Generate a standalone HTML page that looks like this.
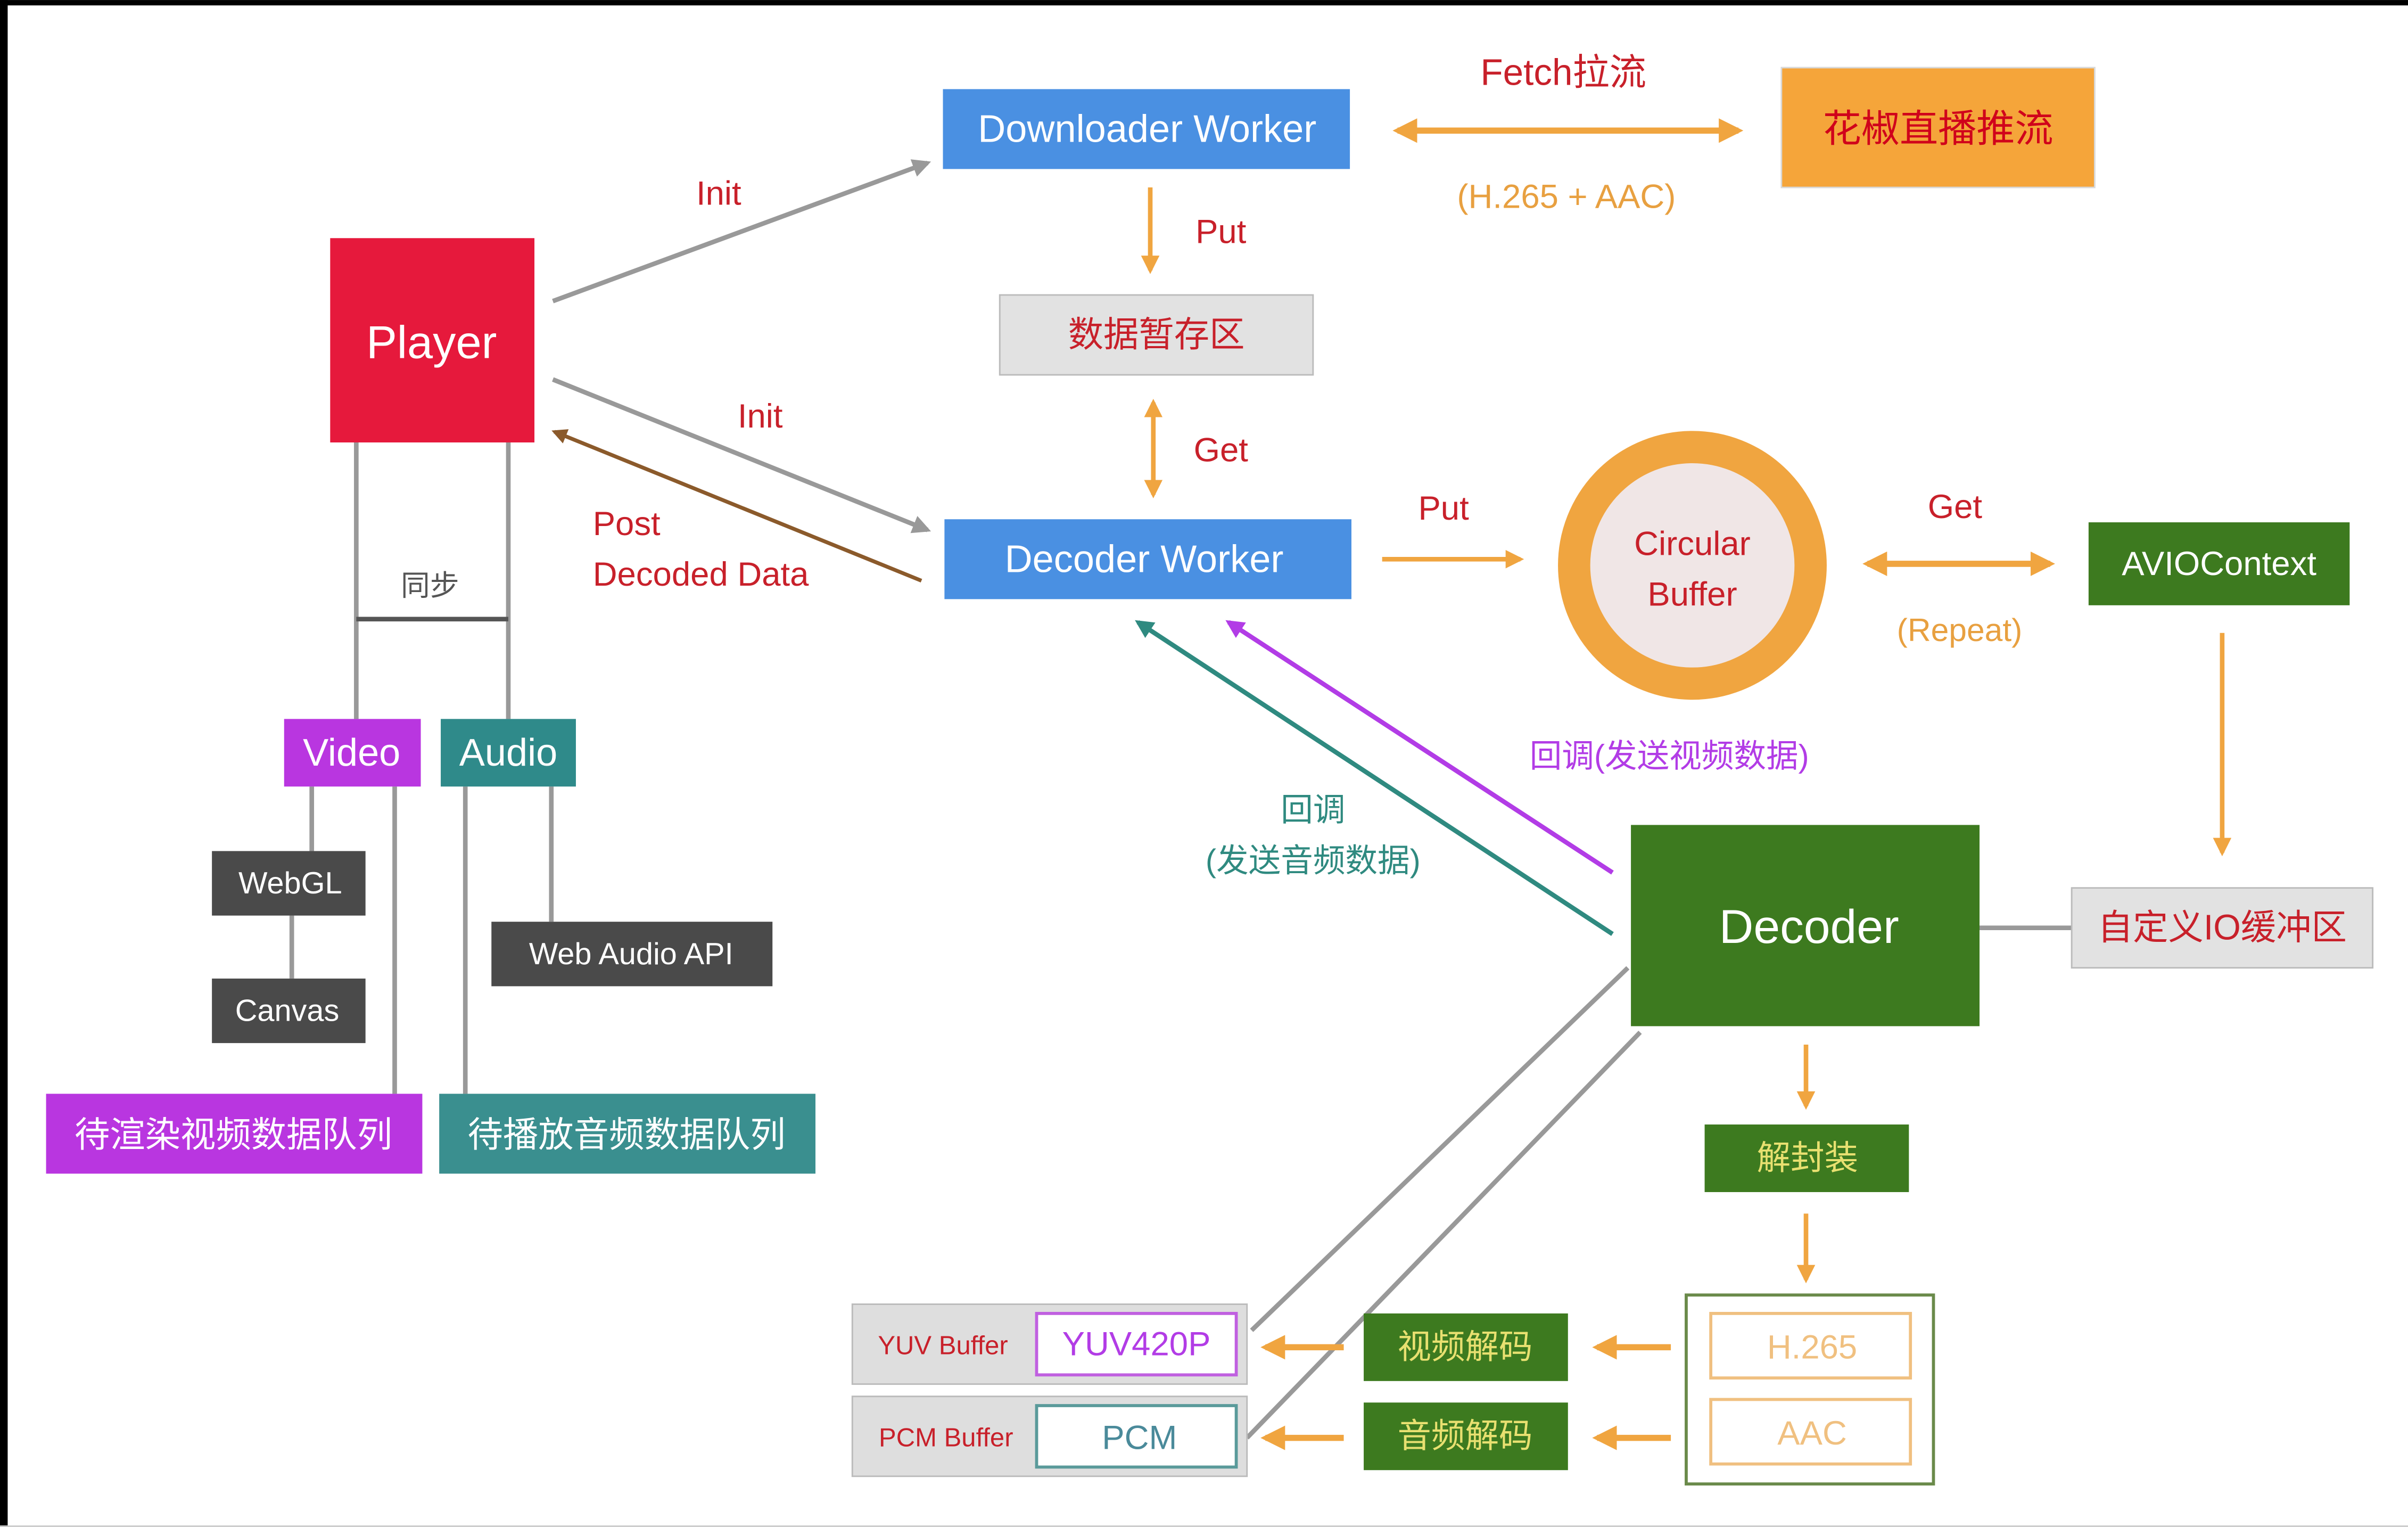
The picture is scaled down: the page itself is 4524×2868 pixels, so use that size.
<!DOCTYPE html>
<html><head><meta charset="utf-8"><style>
html,body{margin:0;padding:0;background:#fff;}
svg{display:block;}
text{font-family:"Liberation Sans","Noto Sans CJK SC",sans-serif;text-anchor:middle;dominant-baseline:central;}
</style></head><body>
<svg width="4524" height="2868" viewBox="0 0 1568 994" xmlns="http://www.w3.org/2000/svg">
<defs>
<marker id="ao" viewBox="0 0 10 10" refX="8" refY="5" markerWidth="4" markerHeight="4" orient="auto-start-reverse"><path d="M0,0 L10,5 L0,10 z" fill="#f0a540"/></marker>
<marker id="ag" viewBox="0 0 10 10" refX="8" refY="5" markerWidth="4" markerHeight="4" orient="auto"><path d="M0,0 L10,5 L0,10 z" fill="#999"/></marker>
<marker id="ab" viewBox="0 0 10 10" refX="8" refY="5" markerWidth="4" markerHeight="4" orient="auto"><path d="M0,0 L10,5 L0,10 z" fill="#8b5a2b"/></marker>
<marker id="ap" viewBox="0 0 10 10" refX="8" refY="5" markerWidth="4" markerHeight="4" orient="auto"><path d="M0,0 L10,5 L0,10 z" fill="#b23ce6"/></marker>
<marker id="at" viewBox="0 0 10 10" refX="8" refY="5" markerWidth="4" markerHeight="4" orient="auto"><path d="M0,0 L10,5 L0,10 z" fill="#2f8a80"/></marker>
</defs>
<rect x="0" y="0" width="1568" height="994" fill="#fff"/>
<rect x="0" y="0" width="1568" height="3.5" fill="#000"/>
<rect x="0" y="0" width="5" height="994" fill="#000"/>
<rect x="0" y="993" width="1568" height="1" fill="#ccc"/>

<!-- top -->
<rect x="614" y="58" width="265" height="52" fill="#4a90e2"/>
<text x="747" y="84" font-size="25" fill="#fff">Downloader Worker</text>
<text x="1018" y="47" font-size="24" fill="#c8202a">Fetch拉流</text>
<line x1="910" y1="85" x2="1132" y2="85" stroke="#f0a540" stroke-width="4" marker-start="url(#ao)" marker-end="url(#ao)"/>
<text x="1020" y="128" font-size="22" fill="#e8a040">(H.265 + AAC)</text>
<rect x="1160" y="44" width="204" height="78" fill="#f5a53a" stroke="#d8d8d8"/>
<text x="1262" y="84" font-size="25" fill="#d0021b">花椒直播推流</text>

<line x1="749" y1="122" x2="749" y2="176" stroke="#f0a540" stroke-width="3" marker-end="url(#ao)"/>
<text x="795" y="151" font-size="22" fill="#c8202a">Put</text>
<rect x="651" y="192" width="204" height="52" fill="#e2e2e2" stroke="#bbb"/>
<text x="753" y="218" font-size="23" fill="#c8202a">数据暂存区</text>
<line x1="751" y1="262" x2="751" y2="322" stroke="#f0a540" stroke-width="3" marker-start="url(#ao)" marker-end="url(#ao)"/>
<text x="795" y="293" font-size="22" fill="#c8202a">Get</text>
<rect x="615" y="338" width="265" height="52" fill="#4a90e2"/>
<text x="745" y="364" font-size="25" fill="#fff">Decoder Worker</text>

<!-- player -->
<rect x="215" y="155" width="133" height="133" fill="#e6193c"/>
<text x="281" y="223" font-size="30" fill="#fff">Player</text>
<line x1="360" y1="196" x2="604" y2="106" stroke="#999" stroke-width="3" marker-end="url(#ag)"/>
<text x="468" y="126" font-size="22" fill="#c8202a">Init</text>
<line x1="360" y1="247" x2="604" y2="345" stroke="#999" stroke-width="3" marker-end="url(#ag)"/>
<text x="495" y="271" font-size="22" fill="#c8202a">Init</text>
<line x1="600" y1="378" x2="361" y2="281" stroke="#8b5a2b" stroke-width="2.5" marker-end="url(#ab)"/>
<text x="386" y="341" font-size="22" fill="#c8202a" style="text-anchor:start">Post</text>
<text x="386" y="374" font-size="22" fill="#c8202a" style="text-anchor:start">Decoded Data</text>

<g stroke="#999" stroke-width="3" fill="none">
<line x1="232" y1="288" x2="232" y2="468"/>
<line x1="331" y1="288" x2="331" y2="468"/>
<line x1="203" y1="512" x2="203" y2="554"/>
<line x1="190" y1="596" x2="190" y2="637"/>
<line x1="257" y1="512" x2="257" y2="712"/>
<line x1="359" y1="512" x2="359" y2="600"/>
<line x1="303" y1="512" x2="303" y2="712"/>
<line x1="1289" y1="604" x2="1349" y2="604"/>
<line x1="1060" y1="630" x2="815" y2="866"/>
<line x1="1068" y1="672" x2="812" y2="936"/>
</g>
<line x1="232" y1="403" x2="331" y2="403" stroke="#555" stroke-width="3"/>
<text x="280" y="381" font-size="19" fill="#555">同步</text>

<rect x="185" y="468" width="89" height="44" fill="#b936e0"/>
<text x="229" y="490" font-size="25" fill="#fff">Video</text>
<rect x="287" y="468" width="88" height="44" fill="#2f8a8a"/>
<text x="331" y="490" font-size="25" fill="#fff">Audio</text>
<rect x="138" y="554" width="100" height="42" fill="#4a4a4a"/>
<text x="189" y="575" font-size="20" fill="#fff">WebGL</text>
<rect x="138" y="637" width="100" height="42" fill="#4a4a4a"/>
<text x="187" y="658" font-size="20" fill="#fff">Canvas</text>
<rect x="320" y="600" width="183" height="42" fill="#4a4a4a"/>
<text x="411" y="621" font-size="20" fill="#fff">Web Audio API</text>
<rect x="30" y="712" width="245" height="52" fill="#b936e0"/>
<text x="152" y="739" font-size="23" fill="#fff">待渲染视频数据队列</text>
<rect x="286" y="712" width="245" height="52" fill="#3a8f8f"/>
<text x="408" y="739" font-size="23" fill="#fff">待播放音频数据队列</text>

<!-- circular -->
<line x1="900" y1="364" x2="990" y2="364" stroke="#f0a540" stroke-width="3" marker-end="url(#ao)"/>
<text x="940" y="331" font-size="22" fill="#c8202a">Put</text>
<circle cx="1102" cy="368" r="77" fill="#f0e6e6" stroke="#f0a540" stroke-width="21"/>
<text x="1102" y="354" font-size="22" fill="#c8202a">Circular</text>
<text x="1102" y="387" font-size="22" fill="#c8202a">Buffer</text>
<line x1="1216" y1="367" x2="1335" y2="367" stroke="#f0a540" stroke-width="4" marker-start="url(#ao)" marker-end="url(#ao)"/>
<text x="1273" y="330" font-size="22" fill="#c8202a">Get</text>
<text x="1276" y="410" font-size="21" fill="#e8a040">(Repeat)</text>
<rect x="1360" y="340" width="170" height="54" fill="#3d7a1f"/>
<text x="1445" y="367" font-size="22" fill="#fff">AVIOContext</text>
<line x1="1447" y1="412" x2="1447" y2="555" stroke="#f0a540" stroke-width="3" marker-end="url(#ao)"/>
<rect x="1349" y="578" width="196" height="52" fill="#e2e2e2" stroke="#bbb"/>
<text x="1447" y="604" font-size="23" fill="#c8202a">自定义IO缓冲区</text>

<!-- decoder -->
<rect x="1062" y="537" width="227" height="131" fill="#3d7a1f"/>
<text x="1178" y="603" font-size="31" fill="#fff">Decoder</text>
<line x1="1050" y1="568" x2="800" y2="405" stroke="#b23ce6" stroke-width="3" marker-end="url(#ap)"/>
<line x1="1050" y1="608" x2="741" y2="405" stroke="#2f8a80" stroke-width="3" marker-end="url(#at)"/>
<text x="1087" y="492" font-size="21" fill="#b23ce6">回调(发送视频数据)</text>
<text x="855" y="527" font-size="21" fill="#2f8a80">回调</text>
<text x="855" y="560" font-size="21" fill="#2f8a80">(发送音频数据)</text>

<line x1="1176" y1="680" x2="1176" y2="720" stroke="#f0a540" stroke-width="3" marker-end="url(#ao)"/>
<rect x="1110" y="732" width="133" height="44" fill="#3d7a1f"/>
<text x="1177" y="754" font-size="22" fill="#e8e070">解封装</text>
<line x1="1176" y1="790" x2="1176" y2="833" stroke="#f0a540" stroke-width="3" marker-end="url(#ao)"/>
<rect x="1098" y="843" width="161" height="123" fill="#fff" stroke="#6a8a4a" stroke-width="2"/>
<rect x="1114" y="855" width="130" height="42" fill="#fff" stroke="#f0c080" stroke-width="2"/>
<text x="1180" y="877" font-size="22" fill="#f0c080">H.265</text>
<rect x="1114" y="911" width="130" height="42" fill="#fff" stroke="#f0c080" stroke-width="2"/>
<text x="1180" y="933" font-size="22" fill="#f0c080">AAC</text>
<line x1="1088" y1="877" x2="1040" y2="877" stroke="#f0a540" stroke-width="4" marker-end="url(#ao)"/>
<line x1="1088" y1="936" x2="1040" y2="936" stroke="#f0a540" stroke-width="4" marker-end="url(#ao)"/>
<rect x="888" y="855" width="133" height="44" fill="#3d7a1f"/>
<text x="954" y="877" font-size="22" fill="#e8e070">视频解码</text>
<rect x="888" y="913" width="133" height="44" fill="#3d7a1f"/>
<text x="954" y="935" font-size="22" fill="#e8e070">音频解码</text>
<line x1="875" y1="877" x2="824" y2="877" stroke="#f0a540" stroke-width="4" marker-end="url(#ao)"/>
<line x1="875" y1="936" x2="824" y2="936" stroke="#f0a540" stroke-width="4" marker-end="url(#ao)"/>

<rect x="555" y="849" width="257" height="52" fill="#dedede" stroke="#bbb"/>
<rect x="675" y="855" width="130" height="40" fill="#fff" stroke="#c060e0" stroke-width="2"/>
<text x="614" y="876" font-size="17" fill="#c8202a">YUV Buffer</text>
<text x="740" y="875" font-size="22" fill="#b23ce6">YUV420P</text>
<rect x="555" y="909" width="257" height="52" fill="#dedede" stroke="#bbb"/>
<rect x="675" y="915" width="130" height="40" fill="#fff" stroke="#5a9a9a" stroke-width="2"/>
<text x="616" y="936" font-size="17" fill="#c8202a">PCM Buffer</text>
<text x="742" y="936" font-size="22" fill="#4a8a9a">PCM</text>
</svg>
</body></html>
